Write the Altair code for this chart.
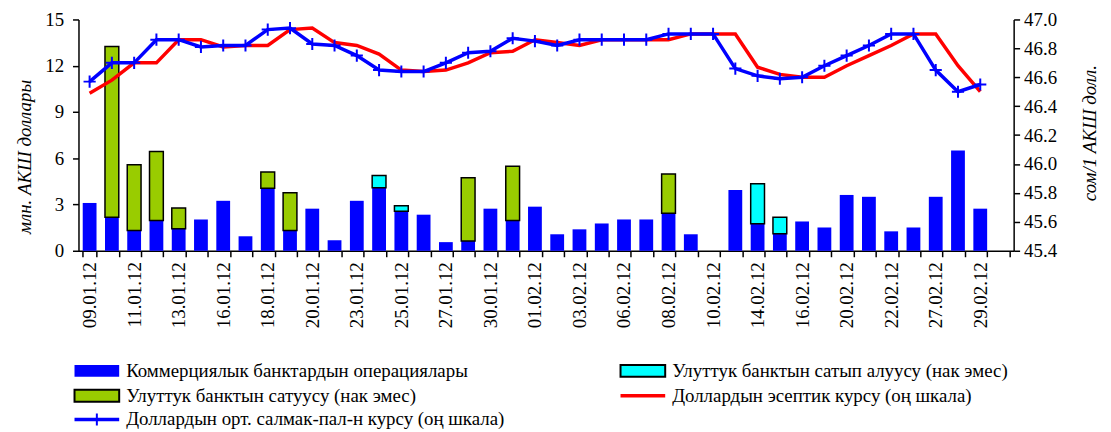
import json
import altair as alt
import pandas as pd

# ---------------- data ----------------
dates = ["09.01.12", "10.01.12", "11.01.12", "12.01.12", "13.01.12", "14.01.12",
         "16.01.12", "17.01.12", "18.01.12", "19.01.12", "20.01.12", "21.01.12",
         "23.01.12", "24.01.12", "25.01.12", "26.01.12", "27.01.12", "28.01.12",
         "30.01.12", "31.01.12", "01.02.12", "02.02.12", "03.02.12", "04.02.12",
         "06.02.12", "07.02.12", "08.02.12", "09.02.12", "10.02.12", "13.02.12",
         "14.02.12", "15.02.12", "16.02.12", "17.02.12", "20.02.12", "21.02.12",
         "22.02.12", "24.02.12", "27.02.12", "28.02.12", "29.02.12", "01.03.12"]

tick_labels = ["09.01.12", "11.01.12", "13.01.12", "16.01.12", "18.01.12", "20.01.12",
               "23.01.12", "25.01.12", "27.01.12", "30.01.12", "01.02.12", "03.02.12",
               "06.02.12", "08.02.12", "10.02.12", "14.02.12", "16.02.12", "20.02.12",
               "22.02.12", "27.02.12", "29.02.12"]

commercial = [3.10, 2.17, 1.32, 1.96, 1.43, 2.03, 3.24, 0.94, 4.05, 1.32, 2.73, 0.68,
              3.24, 4.09, 2.56, 2.34, 0.56, 0.64, 2.73, 1.96, 2.86, 1.07, 1.39, 1.77,
              2.03, 2.03, 2.43, 1.07, 0.00, 3.94, 1.75, 1.11, 1.90, 1.51, 3.62, 3.50,
              1.26, 1.51, 3.50, 6.50, 2.73, 0.00]

nb_purchase = [0, 0, 0, 0, 0, 0, 0, 0, 0, 0, 0, 0,
               0, 0.79, 0.36, 0, 0, 0, 0, 0, 0, 0, 0, 0,
               0, 0, 0, 0, 0, 0, 2.60, 1.06, 0, 0, 0, 0,
               0, 0, 0, 0, 0, 0]

nb_sale = [0, 11.08, 4.26, 4.47, 1.34, 0, 0, 0, 1.06, 2.45, 0, 0,
           0, 0, 0, 0, 0, 4.09, 0, 3.52, 0, 0, 0, 0,
           0, 0, 2.55, 0, 0, 0, 0, 0, 0, 0, 0, 0,
           0, 0, 0, 0, 0, 0]

official_rate = [46.49, 46.58, 46.70, 46.70, 46.86, 46.86, 46.81, 46.82, 46.82, 46.93,
                 46.94, 46.84, 46.82, 46.76, 46.65, 46.64, 46.65, 46.70, 46.77, 46.78,
                 46.86, 46.84, 46.82, 46.86, 46.86, 46.86, 46.86, 46.90, 46.90, 46.90,
                 46.67, 46.62, 46.60, 46.60, 46.68, 46.75, 46.82, 46.90, 46.90, 46.68,
                 46.50, None]

weighted_rate = [46.57, 46.70, 46.70, 46.86, 46.86, 46.81, 46.82, 46.82, 46.93, 46.94,
                 46.83, 46.82, 46.75, 46.65, 46.64, 46.64, 46.70, 46.77, 46.78, 46.87,
                 46.85, 46.82, 46.86, 46.86, 46.86, 46.86, 46.90, 46.90, 46.90, 46.66,
                 46.61, 46.59, 46.60, 46.68, 46.75, 46.82, 46.90, 46.90, 46.65, 46.50,
                 46.55, None]

legend_labels = ["Коммерциялык банктардын операциялары",
                 "Улуттук банктын сатып алуусу (нак эмес)",
                 "Улуттук банктын сатуусу (нак эмес)",
                 "Доллардын эсептик курсу (оң шкала)",
                 "Доллардын орт. салмак-пал-н курсу (оң шкала)"]

left_title = "млн. АКШ доллары"
right_title = "сом/1 АКШ долл."

# ---------------- table ----------------
df = pd.DataFrame({
    "date": dates,
    "commercial": commercial,
    "purchase": nb_purchase,
    "sale": nb_sale,
    "official": official_rate,
    "weighted": weighted_rate,
})
df["purchase_top"] = df["commercial"] + df["purchase"]
df["sale_top"] = df["commercial"] + df["sale"]

BLUE = "#0000FF"
CYAN = "#00FFFF"
GREEN = "#99CC00"
RED = "#FF0000"
SERIF = "Liberation Serif"

W, H = 942, 233
TOP = 10

xscale = alt.Scale(type="band", domain=dates, paddingInner=0.38, paddingOuter=0.19)
label_expr = "indexof(%s, datum.value) >= 0 ? datum.value : ''" % json.dumps(tick_labels)
xaxis = alt.Axis(title=None, labelAngle=270, labelFont=SERIF, labelFontSize=19,
                 labelColor="black", labelPadding=5, tickSize=6, tickBand="extent",
                 domainColor="black", tickColor="black", domainWidth=1.5, tickWidth=1.5,
                 labelExpr=label_expr, labelOverlap=False, grid=False)


def X():
    return alt.X("date:N", scale=xscale, axis=xaxis)


yscale_left = alt.Scale(domain=[0, 15], nice=False)
yscale_right = alt.Scale(domain=[45.4, 47.0], nice=False, zero=False)

left_axis = alt.Axis(orient="left", values=[0, 3, 6, 9, 12, 15], title=left_title,
                     labelFont=SERIF, labelFontSize=19, labelColor="black", labelPadding=9,
                     tickSize=6, tickColor="black", domainColor="black", domainWidth=1.5,
                     tickWidth=1.5, grid=False,
                     titleFont=SERIF, titleFontSize=19, titleFontStyle="italic",
                     titleFontWeight="normal", titleColor="black", titleAngle=270,
                     titleX=-54, titleY=138, titleAlign="center", titleBaseline="middle")

right_axis = alt.Axis(orient="right", values=[45.4, 45.6, 45.8, 46.0, 46.2, 46.4, 46.6, 46.8, 47.0],
                      format=".1f", title=right_title,
                      labelFont=SERIF, labelFontSize=19, labelColor="black", labelPadding=4,
                      tickSize=6, tickColor="black", domainColor="black", domainWidth=1.5,
                      tickWidth=1.5, grid=False,
                      titleFont=SERIF, titleFontSize=19, titleFontStyle="italic",
                      titleFontWeight="normal", titleColor="black", titleAngle=270,
                      titleX=76, titleY=114, titleAlign="center", titleBaseline="middle")

# ---------------- bars ----------------
bar_blue = alt.Chart(df).transform_filter("datum.commercial > 0").mark_bar(
    color=BLUE).encode(
    x=X(),
    y=alt.Y("commercial:Q", scale=yscale_left, axis=left_axis),
)
bar_cyan = alt.Chart(df).transform_filter("datum.purchase > 0").mark_bar(
    color=CYAN, stroke="black", strokeWidth=1.5).encode(
    x=X(),
    y=alt.Y("commercial:Q", scale=yscale_left, axis=left_axis),
    y2="purchase_top:Q",
)
bar_green = alt.Chart(df).transform_filter("datum.sale > 0").mark_bar(
    color=GREEN, stroke="black", strokeWidth=1.5).encode(
    x=X(),
    y=alt.Y("commercial:Q", scale=yscale_left, axis=left_axis),
    y2="sale_top:Q",
)
bars = alt.layer(bar_blue, bar_cyan, bar_green)

# ---------------- lines ----------------
line_red = alt.Chart(df).transform_filter("isValid(datum.official)").mark_line(
    color=RED, strokeWidth=3.5).encode(
    x=X(),
    y=alt.Y("official:Q", scale=yscale_right, axis=right_axis),
)
line_blue = alt.Chart(df).transform_filter("isValid(datum.weighted)").mark_line(
    color=BLUE, strokeWidth=3.5).encode(
    x=X(),
    y=alt.Y("weighted:Q", scale=yscale_right, axis=right_axis),
)
PLUS = "M-1,0L1,0M0,-1L0,1"
pts_blue = alt.Chart(df).transform_filter("isValid(datum.weighted)").mark_point(
    shape=PLUS, size=150, filled=False, stroke=BLUE, strokeWidth=2, opacity=1).encode(
    x=X(),
    y=alt.Y("weighted:Q", scale=yscale_right, axis=right_axis),
)
lines = alt.layer(line_red, line_blue, pts_blue)

# ---------------- legend ----------------
LEG_FONT = 19
row_y = [354, 379, 403]
col_sym = [(-4, 41), (546, 591)]
col_txt = [48, 598]


def leg_rect(col, row, fill, stroke=None):
    kw = dict(color=fill)
    if stroke:
        kw.update(stroke=stroke, strokeWidth=2)
    return alt.Chart(alt.Data(values=[{"k": 0}])).mark_rect(**kw).encode(
        x=alt.value(col_sym[col][0]), x2=alt.value(col_sym[col][1]),
        y=alt.value(row_y[row] - 6), y2=alt.value(row_y[row] + 6))


def leg_line(col, row, color):
    return alt.Chart(alt.Data(values=[{"k": 0}])).mark_rule(color=color, strokeWidth=3.5).encode(
        x=alt.value(col_sym[col][0]), x2=alt.value(col_sym[col][1]),
        y=alt.value(row_y[row]))


def leg_text(col, row, label):
    return alt.Chart(alt.Data(values=[{"label": label}])).mark_text(
        align="left", baseline="middle", font=SERIF, fontSize=LEG_FONT, color="black").encode(
        x=alt.value(col_txt[col]), y=alt.value(row_y[row]), text="label:N")


legend_layers = [
    leg_rect(0, 0, BLUE), leg_text(0, 0, legend_labels[0]),
    leg_rect(1, 0, CYAN, "black"), leg_text(1, 0, legend_labels[1]),
    leg_rect(0, 1, GREEN, "black"), leg_text(0, 1, legend_labels[2]),
    leg_line(1, 1, RED), leg_text(1, 1, legend_labels[3]),
    leg_line(0, 2, BLUE), leg_text(0, 2, legend_labels[4]),
    alt.Chart(alt.Data(values=[{"k": 0}])).mark_point(
        shape=PLUS, size=150, filled=False, stroke=BLUE, strokeWidth=2, opacity=1).encode(
        x=alt.value((col_sym[0][0] + col_sym[0][1]) / 2), y=alt.value(row_y[2])),
]

chart = alt.layer(bars, lines, *legend_layers).resolve_scale(y="independent").properties(
    width=W, height=H,
    autosize=alt.AutoSizeParams(type="none"),
    padding={"left": 71, "top": TOP, "right": 90, "bottom": 180},
    background="white",
).configure_view(stroke=None)

chart.save("out.html", embed_options={"renderer": "svg", "actions": False})
